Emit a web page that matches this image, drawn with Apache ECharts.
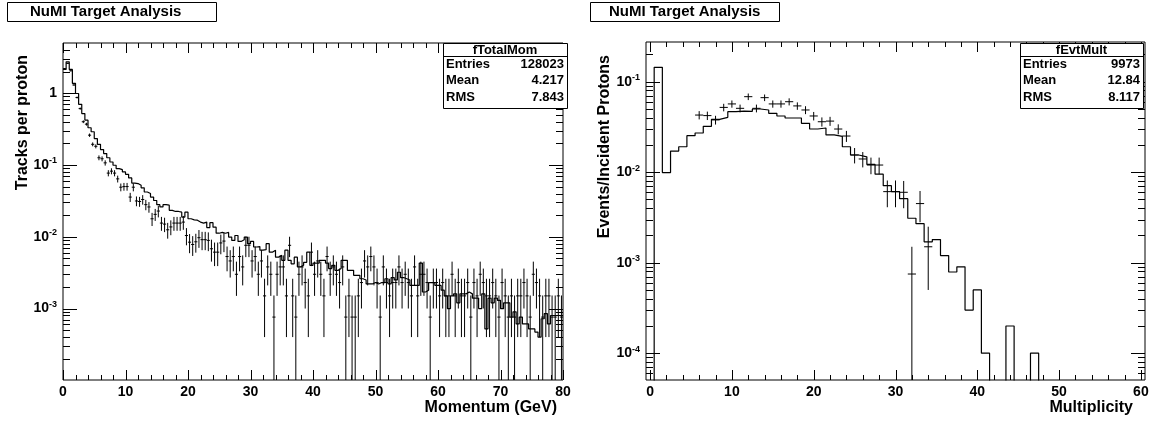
<!DOCTYPE html>
<html>
<head>
<meta charset="utf-8">
<title>NuMI Target Analysis</title>
<script src="https://cdn.jsdelivr.net/npm/echarts@6/dist/echarts.min.js"></script>
<style>
  html, body { margin: 0; padding: 0; background: #fff; }
  #chart { width: 1155px; height: 423px; }
</style>
</head>
<body>
<div id="chart"></div>
<script>
// fTotalMom : 160 bins of 0.5 GeV from 0 to 80 GeV
const momBinWidth = 0.5;
const momSim = [
  2.14, 2.73, 2.14, 1.37, 0.99, 0.70, 0.52, 0.42, 0.33, 0.29,
  0.233, 0.194, 0.164, 0.144, 0.126, 0.110, 0.099, 0.089, 0.086, 0.080,
  0.074, 0.066, 0.056, 0.055, 0.052, 0.048, 0.042, 0.040, 0.0357, 0.032,
  0.028, 0.026, 0.028, 0.0275, 0.0233, 0.0225, 0.0225, 0.022, 0.0188, 0.022,
  0.0178, 0.0172, 0.017, 0.016, 0.0155, 0.016, 0.0134, 0.0157, 0.0136, 0.0112,
  0.0115, 0.0112, 0.0115, 0.0099, 0.0089, 0.0104, 0.0086, 0.0091, 0.0099, 0.008,
  0.0086, 0.0072, 0.0073, 0.0065, 0.0066, 0.008, 0.0061, 0.0065, 0.0052, 0.0055,
  0.0047, 0.0065, 0.0047, 0.0042, 0.0052, 0.0038, 0.004, 0.0044, 0.0061, 0.004,
  0.0043, 0.0043, 0.0047, 0.0047, 0.0043, 0.0036, 0.004, 0.0034, 0.0036, 0.0047,
  0.0047, 0.0034, 0.0034, 0.0029, 0.0029, 0.0026, 0.0025, 0.0022, 0.0022, 0.0023,
  0.0022, 0.0023, 0.0023, 0.0026, 0.0022, 0.0027, 0.0025, 0.0032, 0.0027, 0.0026,
  0.0025, 0.0021, 0.0021, 0.0021, 0.0043, 0.0017, 0.0018, 0.0023, 0.0023, 0.0021,
  0.0021, 0.0018, 0.0015, 0.001, 0.0015, 0.0016, 0.0012, 0.0016, 0.0016, 0.0017,
  0.0016, 0.0014, 0.0014, 0.001, 0.0016, 0.00052, 0.0014, 0.0012, 0.0014, 0.0013,
  0.001, 0.0012, 0.0012, 0.00076, 0.0009, 0.00061, 0.00076, 0.00061, 0.00061, 0.00052,
  0.00052, 0.00047, 0.0004, 0.00072, 0.00085, 0.00061, 0.0008, 0.0008, 0.0008, 0.0008
];
const momData = [
  2.2, 2.6, 2.05, 1.3, 0.87, 0.61, 0.40, 0.37, 0.26, 0.194,
  0.182, 0.126, 0.122, 0.107, 0.077, 0.082, 0.077, 0.064, 0.049, 0.050,
  0.050, 0.0357, 0.049, 0.0315, 0.031, 0.033, 0.028, 0.026, 0.0178, 0.0205,
  0.0228, 0.0155, 0.015, 0.0125, 0.0137, 0.0155, 0.0155, 0.0155, 0.016, 0.0104,
  0.0084, 0.0078, 0.0085, 0.0097, 0.0091, 0.0091, 0.0089, 0.0068, 0.0061, 0.0061,
  0.0082, 0.0087, 0.0053, 0.0046, 0.0053, 0.003, 0.0053, 0.0038, 0.0076, 0.0076,
  0.0046, 0.0053, 0.003, 0.0046, 0.0015, 0.0038, 0.003, 0.00076, 0.003, 0.0038,
  0.0038, 0.0015, 0.0076, 0.0015, 0.00076, 0.003, 0.0038, 0.0023, 0.0015, 0.0061,
  0.003, 0.0046, 0.003, 0.0015, 0.0053, 0.003, 0.0038, 0.003, 0.0023, 0.0038,
  0.00076, 0.0015, 0.00076, 0.00076, 0.0015, 0.0023, 0.0046, 0.0038, 0.0053, 0.0038,
  0.0023, 0.00076, 0.0038, 0.0023, 0.0015, 0.0023, 0.0023, 0.0038, 0.0023, 0.003,
  0.0023, 0.0015, 0.0038, 0.0015, 0.003, 0.003, 0.0023, 0.00076, 0.0023, 0.0023,
  0.0015, 0.0023, 0.0015, 0.0015, 0.003, 0.0015, 0.0023, 0.0015, 0.0015, 0.0023,
  0.00076, 0.0023, 0.0015, 0.003, 0.0023, 0.0015, 0.0015, 0.0023, 0.0015, 0.00076,
  0.0023, 0.0015, 0.00076, 0.0015, 0.00076, 0.0015, 0.0015, 0.0023, 0.0015, 0.00076,
  0.003, 0.0023, 0.0015, 0.00076, 0.0015, 0.0015, 0.00076, 0.00076, 0.0015, 0.00076
];
const momErr = [
  0.041, 0.044, 0.039, 0.031, 0.026, 0.0215, 0.0174, 0.0168, 0.0141, 0.0121,
  0.0118, 0.0098, 0.0096, 0.009, 0.0076, 0.0079, 0.0076, 0.007, 0.0061, 0.0062,
  0.0062, 0.0052, 0.0061, 0.0049, 0.0049, 0.005, 0.0046, 0.0044, 0.0037, 0.0039,
  0.0042, 0.0034, 0.0034, 0.0031, 0.0032, 0.0034, 0.0034, 0.0034, 0.0035, 0.0028,
  0.0025, 0.0024, 0.0025, 0.0027, 0.0026, 0.0026, 0.0026, 0.0023, 0.0022, 0.0022,
  0.0025, 0.0026, 0.002, 0.0019, 0.002, 0.0015, 0.002, 0.0017, 0.0024, 0.0024,
  0.0019, 0.002, 0.0015, 0.0019, 0.0011, 0.0017, 0.0015, 0.00076, 0.0015, 0.0017,
  0.0017, 0.0011, 0.0024, 0.0011, 0.00076, 0.0015, 0.0017, 0.0013, 0.0011, 0.0022,
  0.0015, 0.0019, 0.0015, 0.0011, 0.002, 0.0015, 0.0017, 0.0015, 0.0013, 0.0017,
  0.00076, 0.0011, 0.00076, 0.00076, 0.0011, 0.0013, 0.0019, 0.0017, 0.002, 0.0017,
  0.0013, 0.00076, 0.0017, 0.0013, 0.0011, 0.0013, 0.0013, 0.0017, 0.0013, 0.0015,
  0.0013, 0.0011, 0.0017, 0.0011, 0.0015, 0.0015, 0.0013, 0.00076, 0.0013, 0.0013,
  0.0011, 0.0013, 0.0011, 0.0011, 0.0015, 0.0011, 0.0013, 0.0011, 0.0011, 0.0013,
  0.00076, 0.0013, 0.0011, 0.0015, 0.0013, 0.0011, 0.0011, 0.0013, 0.0011, 0.00076,
  0.0013, 0.0011, 0.00076, 0.0011, 0.00076, 0.0011, 0.0011, 0.0013, 0.0011, 0.00076,
  0.0015, 0.0013, 0.0011, 0.00076, 0.0011, 0.0011, 0.00076, 0.00076, 0.0011, 0.00076
];

// fEvtMult : unit bins centred on 0 .. 60
const multSim = [
  0, 0.144, 0.0099, 0.0171, 0.0191, 0.0253, 0.0271, 0.0321, 0.0384, 0.0404,
  0.0466, 0.0474, 0.047, 0.0499, 0.0487, 0.0447, 0.0418, 0.0397, 0.0397, 0.0347,
  0.030, 0.0308, 0.0258, 0.0249, 0.0191, 0.0155, 0.0148, 0.0122, 0.0095, 0.0071,
  0.0061, 0.0051, 0.0031, 0.0027, 0.0017, 0.0018, 0.0012, 0.00079, 0.0009, 0.0003,
  0.0005, 0.0001, 0, 0, 0.0002, 0, 0, 0.0001, 0, 0,
  0, 0, 0, 0, 0, 0, 0, 0, 0, 0, 0
];
const multBins = [6, 7, 8, 9, 10, 11, 12, 13, 14, 15, 16, 17, 18, 19, 20,
  21, 22, 23, 24, 25, 26, 27, 28, 29, 30, 31, 32, 33, 34];
const multData = [0.0428, 0.0422, 0.0378, 0.052, 0.0568, 0.0508, 0.0683, 0.0508, 0.0666, 0.0568,
  0.0568, 0.0601, 0.054, 0.0487, 0.0418, 0.0361, 0.0367, 0.030, 0.0251, 0.0155,
  0.014, 0.012, 0.012, 0.0061, 0.0061, 0.006, 0.00075, 0.0045, 0.0015];
const multErr = [0.0045, 0.0045, 0.0042, 0.005, 0.0052, 0.005, 0.0057, 0.005, 0.0056, 0.0052,
  0.0052, 0.0054, 0.0051, 0.0049, 0.0045, 0.0042, 0.0042, 0.0038, 0.0035, 0.003,
  0.0027, 0.0025, 0.0025, 0.002, 0.002, 0.002, 0.00075, 0.0017, 0.001];

const momStats = [['Entries', '128023'], ['Mean', '4.217'], ['RMS', '7.843']];
const multStats = [['Entries', '9973'], ['Mean', '12.84'], ['RMS', '8.117']];

const FONT = 'Liberation Sans, Arial, Helvetica, sans-serif';
const momY = [1.01e-4, 5];
const multY = [5.06e-5, 0.2745];

// histogram outline: one point per lower bin edge plus the last upper edge
function stepLine(values, lo, width, floor) {
  const pts = values.map((v, i) => [lo + i * width, v > 0 ? v : floor]);
  pts.push([lo + values.length * width, pts[pts.length - 1][1]]);
  return pts;
}

// ROOT style ticks on all four sides: kind 0/1 = x minor/major, 2/3 = y minor/major
function tickData(xFrom, xTo, yRange, yRef) {
  const out = [];
  for (let v = xFrom; v <= xTo + 1e-9; v += 2) out.push([v, yRef, v % 10 === 0 ? 1 : 0]);
  for (let d = -6; d <= 1; d++) {
    for (let m = 1; m <= 9; m++) {
      const v = m * Math.pow(10, d);
      if (v > yRange[0] && v < yRange[1]) out.push([xFrom + 1, v, m === 1 ? 3 : 2]);
    }
  }
  return out;
}

function renderTick(params, api) {
  const cs = params.coordSys;
  const kind = api.value(2);
  const p = api.coord([api.value(0), api.value(1)]);
  const st = { stroke: '#000', lineWidth: 1 };
  if (kind < 2) {
    const len = kind === 1 ? 10 : 5;
    const x = Math.round(p[0]) + 0.5, b = cs.y + cs.height, t = cs.y;
    return { type: 'group', children: [
      { type: 'line', shape: { x1: x, y1: b, x2: x, y2: b - len }, style: st },
      { type: 'line', shape: { x1: x, y1: t, x2: x, y2: t + len }, style: st }
    ] };
  }
  const len = kind === 3 ? 14 : 7;
  const y = Math.round(p[1]) + 0.5, l = cs.x, r = cs.x + cs.width;
  return { type: 'group', children: [
    { type: 'line', shape: { x1: l, y1: y, x2: l + len, y2: y }, style: st },
    { type: 'line', shape: { x1: r, y1: y, x2: r - len, y2: y }, style: st }
  ] };
}

function errorRenderer(binWidth, yFloor) {
  return function (params, api) {
    const x = api.value(0), y = api.value(1), e = api.value(2);
    const a = api.coord([x - binWidth / 2, y]);
    const b = api.coord([x + binWidth / 2, y]);
    const top = api.coord([x, y + e]);
    const bot = api.coord([x, Math.max(y - e, yFloor)]);
    const st = { stroke: '#000', lineWidth: 1 };
    return { type: 'group', children: [
      { type: 'line', shape: { x1: a[0], y1: a[1], x2: b[0], y2: b[1] }, style: st },
      { type: 'line', shape: { x1: top[0], y1: top[1], x2: bot[0], y2: bot[1] }, style: st }
    ] };
  };
}

function logLabel(v) {
  const e = Math.log10(v);
  if (Math.abs(e - Math.round(e)) > 1e-6) return '';
  const n = Math.round(e);
  return n === 0 ? '1' : '10{sup|' + n + '}';
}

const axisFont = { fontFamily: FONT, fontWeight: 'bold', fontSize: 14, color: '#000' };
const supStyle = { sup: { fontSize: 9, fontWeight: 'bold', fontFamily: FONT, verticalAlign: 'top', padding: [0, 0, 8, 0] } };

function statsBox(x0, x1, title, rows) {
  const els = [];
  els.push({ type: 'rect', shape: { x: x0 + 0.5, y: 43.5, width: x1 - x0, height: 65 },
    style: { fill: '#fff', stroke: '#000', lineWidth: 1 }, z: 100 });
  els.push({ type: 'line', shape: { x1: x0, y1: 56.5, x2: x1, y2: 56.5 },
    style: { stroke: '#000', lineWidth: 1 }, z: 101 });
  els.push({ type: 'text', x: (x0 + x1) / 2, y: 50.5, z: 101,
    style: { text: title, font: 'bold 13px ' + FONT, fill: '#000', align: 'center', verticalAlign: 'middle' } });
  rows.forEach((r, i) => {
    const y = 64 + i * 16.5;
    els.push({ type: 'text', x: x0 + 3, y: y, z: 101,
      style: { text: r[0], font: 'bold 13px ' + FONT, fill: '#000', align: 'left', verticalAlign: 'middle' } });
    els.push({ type: 'text', x: x1 - 3, y: y, z: 101,
      style: { text: r[1], font: 'bold 13px ' + FONT, fill: '#000', align: 'right', verticalAlign: 'middle' } });
  });
  return els;
}

function titleBox(x0, x1, textX) {
  return [
    { type: 'rect', shape: { x: x0 + 0.5, y: 2.5, width: x1 - x0, height: 19 },
      style: { fill: '#fff', stroke: '#000', lineWidth: 1 }, z: 100 },
    { type: 'text', x: textX, y: 12, z: 101,
      style: { text: 'NuMI Target Analysis', font: 'bold 15px ' + FONT, fill: '#000', align: 'left', verticalAlign: 'middle' } }
  ];
}

function axisTitle(text, x, y, rotate) {
  return { type: 'text', x: x, y: y, rotation: rotate ? Math.PI / 2 : 0, z: 101,
    style: { text: text, font: 'bold 16px ' + FONT, fill: '#000', align: 'right', verticalAlign: 'middle' } };
}

const chart = echarts.init(document.getElementById('chart'), null, { renderer: 'canvas' });

const option = {
  animation: false,
  backgroundColor: '#fff',
  grid: [
    { left: 63, top: 43, width: 500, height: 337, show: true, borderColor: '#000', borderWidth: 1, backgroundColor: 'transparent' },
    { left: 646, top: 42, width: 499, height: 338, show: true, borderColor: '#000', borderWidth: 1, backgroundColor: 'transparent' }
  ],
  xAxis: [
    { type: 'value', gridIndex: 0, min: 0, max: 80, interval: 10,
      axisLine: { show: false }, axisTick: { show: false }, splitLine: { show: false },
      axisLabel: Object.assign({ margin: 5 }, axisFont) },
    { type: 'value', gridIndex: 1, min: -0.5, max: 60.5, splitNumber: 6,
      axisLine: { show: false }, axisTick: { show: false }, splitLine: { show: false },
      axisLabel: Object.assign({ margin: 5, showMinLabel: true, showMaxLabel: true,
        formatter: v => (Math.abs(v % 10) < 1e-9 ? String(v) : '') }, axisFont) }
  ],
  yAxis: [
    { type: 'log', gridIndex: 0, min: momY[0], max: momY[1], logBase: 10,
      axisLine: { show: false }, axisTick: { show: false }, splitLine: { show: false },
      axisLabel: Object.assign({ margin: 6, formatter: logLabel, rich: supStyle }, axisFont) },
    { type: 'log', gridIndex: 1, min: multY[0], max: multY[1], logBase: 10,
      axisLine: { show: false }, axisTick: { show: false }, splitLine: { show: false },
      axisLabel: Object.assign({ margin: 6, formatter: logLabel, rich: supStyle }, axisFont) }
  ],
  series: [
    { type: 'line', xAxisIndex: 0, yAxisIndex: 0, step: 'end', symbol: 'none', clip: true,
      lineStyle: { color: '#000', width: 1.2 }, data: stepLine(momSim, 0, momBinWidth, momY[0] / 10) },
    { type: 'custom', xAxisIndex: 0, yAxisIndex: 0, silent: true, encode: { x: 0, y: 1 },
      renderItem: errorRenderer(momBinWidth, momY[0]),
      data: momData.map((v, i) => [(i + 0.5) * momBinWidth, v, momErr[i]]) },
    { type: 'custom', xAxisIndex: 0, yAxisIndex: 0, silent: true, encode: { x: 0, y: 1 },
      renderItem: renderTick, data: tickData(0, 80, momY, 0.01) },

    { type: 'line', xAxisIndex: 1, yAxisIndex: 1, step: 'end', symbol: 'none', clip: true,
      lineStyle: { color: '#000', width: 1.2 }, data: stepLine(multSim, -0.5, 1, multY[0] / 10) },
    { type: 'custom', xAxisIndex: 1, yAxisIndex: 1, silent: true, encode: { x: 0, y: 1 },
      renderItem: errorRenderer(1, multY[0]),
      data: multBins.map((b, i) => [b, multData[i], multErr[i]]) },
    { type: 'custom', xAxisIndex: 1, yAxisIndex: 1, silent: true, encode: { x: 0, y: 1 },
      renderItem: renderTick, data: tickData(0, 60, multY, 0.01) }
  ],
  graphic: [].concat(
    titleBox(7, 216, 30),
    titleBox(590, 779, 609),
    statsBox(443, 567, 'fTotalMom', momStats),
    statsBox(1020, 1143, 'fEvtMult', multStats),
    [
      axisTitle('Tracks per proton', 23, 55, true),
      axisTitle('Momentum (GeV)', 557, 408, false),
      axisTitle('Events/Incident Protons', 605, 55, true),
      axisTitle('Multiplicity', 1133, 408, false)
    ]
  )
};

chart.setOption(option);
</script>
</body>
</html>
